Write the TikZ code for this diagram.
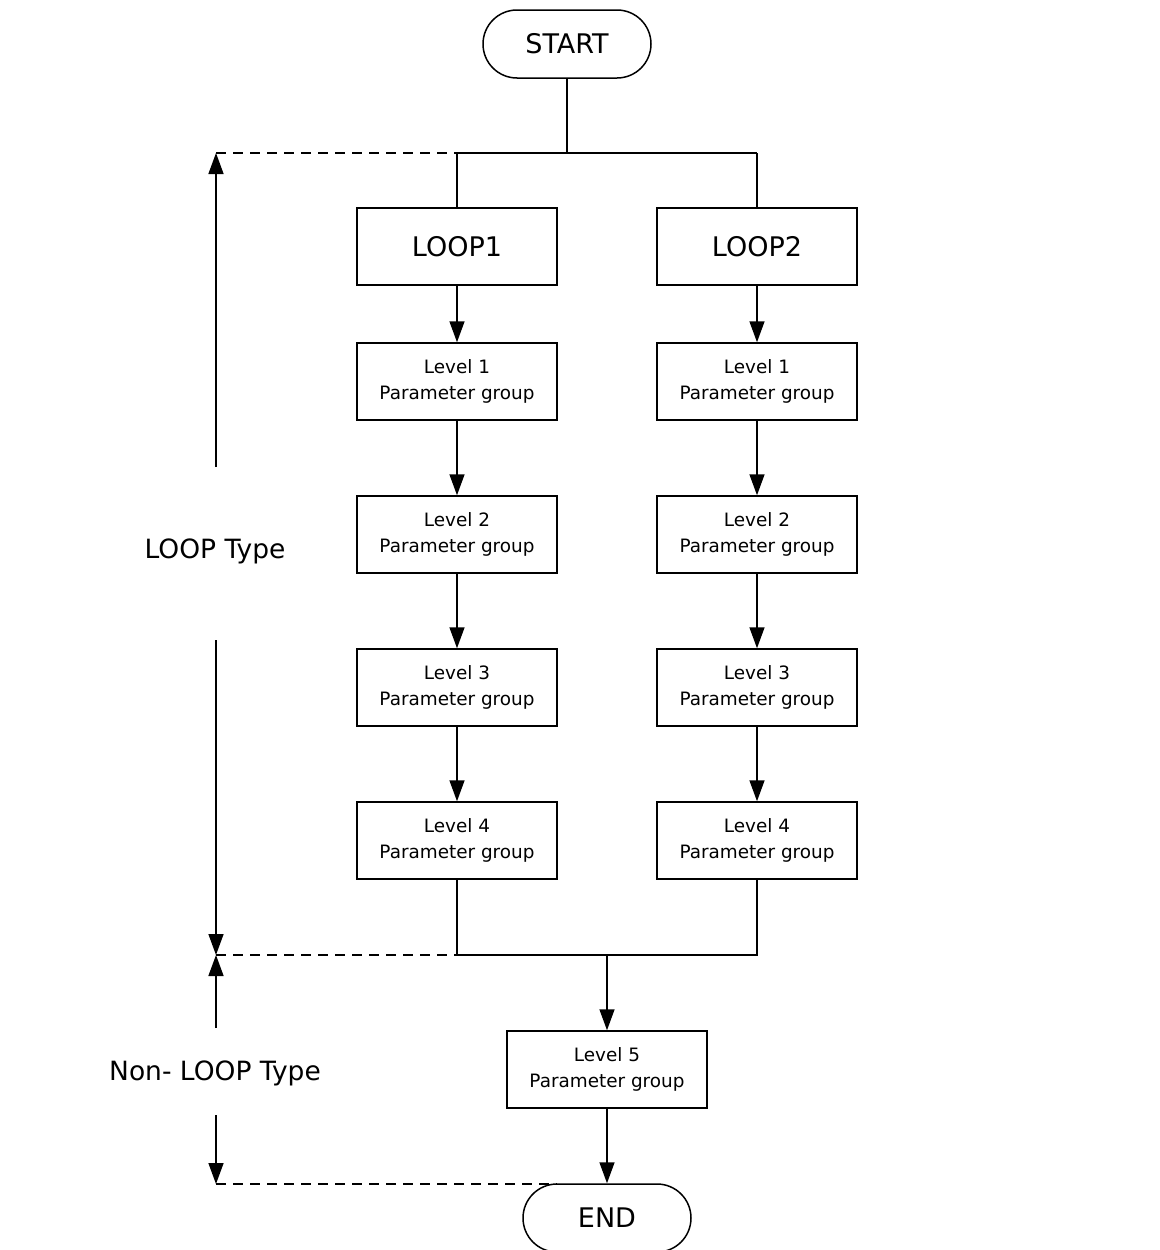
\documentclass[tikz,border=0pt]{standalone}
\usepackage{fontspec}
\setmainfont{DejaVu Sans}
\usetikzlibrary{arrows.meta}
\begin{document}
\begin{tikzpicture}[x=1pt,y=-1pt,
  box/.style={draw, line width=1.5pt, minimum width=200pt, minimum height=77pt, inner sep=0pt, align=center, font=\fontsize{18.4}{26}\selectfont},
  bigbox/.style={box, font=\fontsize{27}{30}\selectfont},
  term/.style={draw, line width=1.5pt, minimum width=168pt, minimum height=68pt, rounded corners=34pt, inner sep=0pt, font=\fontsize{27}{30}\selectfont},
  conn/.style={line width=1.5pt},
  arr/.style={conn, -{Triangle[length=21pt,width=15pt]}},
  dashline/.style={line width=1.5pt, dash pattern=on 10pt off 7pt},
  lbl/.style={font=\fontsize{26.5}{30}\selectfont, inner sep=0pt}
]
\useasboundingbox (0,0) rectangle (1159,1250);

\node[term] (start) at (567,44) {START};
\node[bigbox] (loop1) at (457,246.5) {LOOP1};
\node[bigbox] (loop2) at (757,246.5) {LOOP2};

\node[box] (a1) at (457,381.5) {Level 1\\Parameter group};
\node[box] (a2) at (457,534.5) {Level 2\\Parameter group};
\node[box] (a3) at (457,687.5) {Level 3\\Parameter group};
\node[box] (a4) at (457,840.5) {Level 4\\Parameter group};

\node[box] (b1) at (757,381.5) {Level 1\\Parameter group};
\node[box] (b2) at (757,534.5) {Level 2\\Parameter group};
\node[box] (b3) at (757,687.5) {Level 3\\Parameter group};
\node[box] (b4) at (757,840.5) {Level 4\\Parameter group};

\node[box] (c5) at (607,1069.5) {Level 5\\Parameter group};
\node[term] (end) at (607,1218) {END};

\node[lbl] (looptype) at (215,551) {LOOP Type};
\node[lbl] (nonloop) at (215,1073) {Non- LOOP Type};

% junction coordinates
\coordinate (jt) at (567,153);
\coordinate (jl) at (457,153);
\coordinate (jr) at (757,153);
\coordinate (jb) at (607,955);
\coordinate (ltop) at (216,153);
\coordinate (lmid) at (216,955);
\coordinate (lbot) at (216,1184);
\coordinate (lu1) at (216,467);
\coordinate (ld1) at (216,640);
\coordinate (lu2) at (216,1028);
\coordinate (ld2) at (216,1115);
\coordinate (endtl) at (557,1184);

% top split
\draw[conn] (start.south) -- (jt);
\draw[conn] (jl) -- (jr);
\draw[conn] (jl) -- (loop1.north);
\draw[conn] (jr) -- (loop2.north);

% columns
\draw[arr] (loop1) -- (a1);
\draw[arr] (a1) -- (a2);
\draw[arr] (a2) -- (a3);
\draw[arr] (a3) -- (a4);
\draw[arr] (loop2) -- (b1);
\draw[arr] (b1) -- (b2);
\draw[arr] (b2) -- (b3);
\draw[arr] (b3) -- (b4);

% merge
\draw[conn] (a4.south) |- (jb) -| (b4.south);
\draw[arr] (jb) -- (c5.north);
\draw[arr] (c5) -- (end);

% left range markers
\draw[dashline] (ltop) -- (jl);
\draw[dashline] (lmid) -- (a4.south |- lmid);
\draw[dashline] (lbot) -- (endtl);
\draw[arr] (lu1) -- (ltop);
\draw[arr] (ld1) -- (lmid);
\draw[arr] (lu2) -- (lmid);
\draw[arr] (ld2) -- (lbot);
\end{tikzpicture}
\end{document}
